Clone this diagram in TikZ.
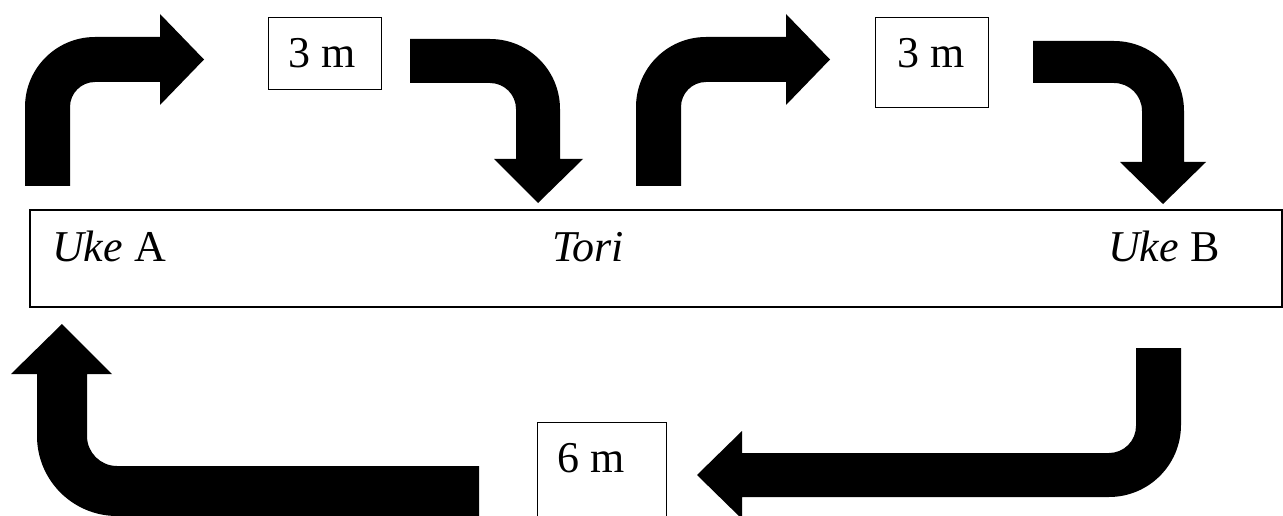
\documentclass[tikz,border=0pt]{standalone}
\usepackage{fontspec}
\setmainfont{Liberation Serif}
\begin{document}
\begin{tikzpicture}[x=1pt,y=-1pt,
  blk/.style={fill=black,draw=none},
  boxline/.style={draw=black,line width=1.4pt},
  lbl/.style={anchor=base west,inner sep=0pt,font=\fontsize{44}{52}\selectfont}]
\useasboundingbox (0,0) rectangle (1283,516);
% arrow 1: up then right
\fill[blk] (25,186) -- (25,107) arc[start angle=180,end angle=90,radius=70pt]
  -- (160,37) -- (160,14) -- (204,59.5) -- (160,105) -- (160,82) -- (95,82)
  arc[start angle=90,end angle=180,radius=25pt] -- (70,186) -- cycle;
% arrow 2: right then down
\fill[blk] (410,39) -- (490,39) arc[start angle=90,end angle=0,radius=70pt]
  -- (560,159) -- (583,159) -- (538,203) -- (494,159) -- (516,159) -- (516,109)
  arc[start angle=0,end angle=90,radius=26pt] -- (410,83) -- cycle;
% arrow 3: up then right
\fill[blk] (636,186) -- (636,107) arc[start angle=180,end angle=90,radius=70pt]
  -- (786,37) -- (786,14) -- (830,59.5) -- (786,105) -- (786,82) -- (706,82)
  arc[start angle=90,end angle=180,radius=25pt] -- (681,186) -- cycle;
% arrow 4: right then down
\fill[blk] (1033,41) -- (1114,41) arc[start angle=90,end angle=0,radius=70pt]
  -- (1184,162) -- (1206,162) -- (1163,204) -- (1120,162) -- (1142,162) -- (1142,111)
  arc[start angle=0,end angle=90,radius=28pt] -- (1033,83) -- cycle;
% arrow 5: down then left
\fill[blk] (1136,348) -- (1181,348) -- (1181,425) arc[start angle=0,end angle=-90,radius=72pt]
  -- (742,497) -- (742,519) -- (697,475) -- (742,431) -- (742,453) -- (1109,453)
  arc[start angle=-90,end angle=0,radius=27pt] -- cycle;
% arrow 6: left then up
\fill[blk] (479,466) -- (117,466) arc[start angle=-90,end angle=-180,radius=30pt]
  -- (87,374) -- (112,374) -- (62,324) -- (11,374) -- (37,374) -- (37,436)
  arc[start angle=180,end angle=270,radius=80pt] -- (479,516) -- cycle;
% boxes
\node[boxline,inner sep=0pt,minimum width=113pt,minimum height=72pt,anchor=north west] (box1) at (268,17) {};
\node[boxline,inner sep=0pt,minimum width=113pt,minimum height=90pt,anchor=north west] (box2) at (875,17) {};
\node[boxline,inner sep=0pt,minimum width=129pt,minimum height=110pt,anchor=north west] (box3) at (537,422) {};
\node[boxline,line width=1.6pt,inner sep=0pt,minimum width=1252pt,minimum height=97pt,anchor=north west] (mat) at (29,209) {};
% labels
\node[lbl] (t1) at (288,68) {3 m};
\node[lbl] (t2) at (897,68) {3 m};
\node[lbl] (t3) at (557,472) {6 m};
\node[lbl] (ukeA) at (52,261) {\textit{Uke} A};
\node[lbl] (tori) at (552,261) {\textit{Tori}};
\node[lbl] (ukeB) at (1108,261) {\textit{Uke} B};
\end{tikzpicture}
\end{document}
